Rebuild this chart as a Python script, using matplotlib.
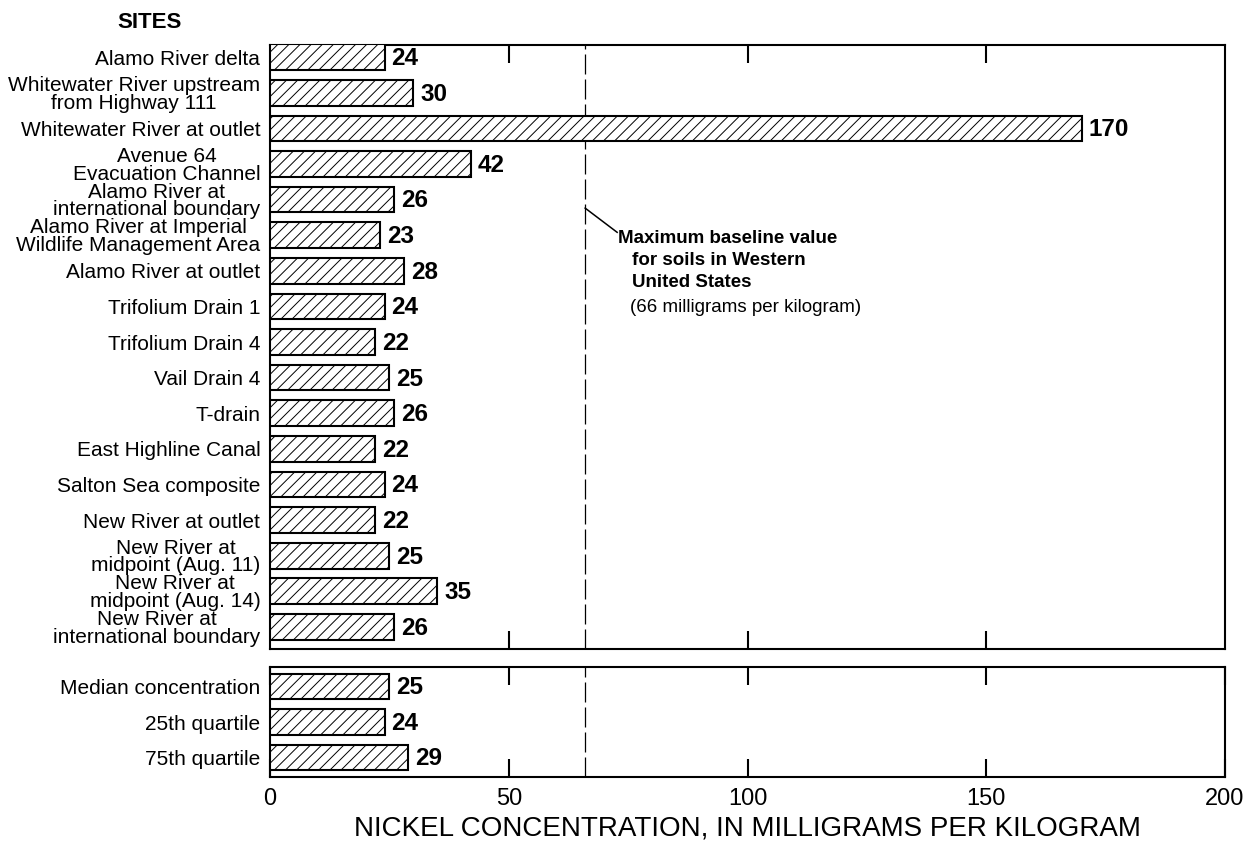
import matplotlib
matplotlib.use("Agg")
import matplotlib.pyplot as plt

plt.rcParams['font.family'] = ['Liberation Sans', 'DejaVu Sans']
plt.rcParams['hatch.linewidth'] = 0.7

sites = ['Alamo River delta',
         'Whitewater River upstream\nfrom Highway 111',
         'Whitewater River at outlet',
         'Avenue 64\nEvacuation Channel',
         'Alamo River at\ninternational boundary',
         'Alamo River at Imperial\nWildlife Management Area',
         'Alamo River at outlet',
         'Trifolium Drain 1',
         'Trifolium Drain 4',
         'Vail Drain 4',
         'T-drain',
         'East Highline Canal',
         'Salton Sea composite',
         'New River at outlet',
         'New River at\nmidpoint (Aug. 11)',
         'New River at\nmidpoint (Aug. 14)',
         'New River at\ninternational boundary']
nickel = [24, 30, 170, 42, 26, 23, 28, 24, 22, 25, 26, 22, 24, 22, 25, 35, 26]

stats = ['Median concentration', '25th quartile', '75th quartile']
stat_values = [25, 24, 29]

baseline = 66

fig = plt.figure(figsize=(12.44, 8.47), dpi=100)
W, H = 1244, 847
ax1 = fig.add_axes([270 / W, 1 - 649 / H, 955 / W, 604 / H])
ax2 = fig.add_axes([270 / W, 1 - 777 / H, 955 / W, 110 / H])


def draw(ax, names, vals):
    ypos = list(range(len(vals)))
    ax.barh(ypos, vals, height=0.72, color='white', edgecolor='black',
            hatch='///', linewidth=1.5, zorder=3)
    for y, v in zip(ypos, vals):
        ax.annotate(str(v), (v, y), xytext=(5, -1), textcoords='offset points',
                    ha='left', va='center', fontsize=17.5, fontweight='bold')
    ax.set_yticks(ypos)
    ax.set_yticklabels(names, fontsize=15, linespacing=0.92)
    for lbl in ax.get_yticklabels():
        lbl.set_multialignment('center')
    ax.tick_params(axis='y', length=0, pad=7)
    ax.axvline(baseline, color='black', lw=0.9, dashes=(16, 4), zorder=1)
    ax.set_xlim(0, 200)
    for s in ax.spines.values():
        s.set_linewidth(1.5)


draw(ax1, sites, nickel)
ax1.set_ylim(16.62, -0.34)
ax1.set_xticks([50, 100, 150])
ax1.tick_params(axis='x', direction='in', length=13, width=1.5,
                top=True, bottom=True, labelbottom=False)

draw(ax2, stats, stat_values)
ax2.set_ylim(2.55, -0.55)
ax2.set_xticks([0, 50, 100, 150, 200])
ax2.tick_params(axis='x', direction='in', length=13, width=1.5,
                top=True, bottom=True, labelsize=17, pad=8)
ax2.set_xlabel('NICKEL CONCENTRATION, IN MILLIGRAMS PER KILOGRAM',
               fontsize=20, labelpad=4)

# annotation for the baseline line
ax1.plot([66, 72.7], [4.24, 4.92], color='black', lw=1.1)
ax1.text(72.9, 5.08, 'Maximum baseline value', fontsize=13.5, fontweight='bold',
         ha='left', va='center')
ax1.text(75.8, 5.70, 'for soils in Western', fontsize=13.5, fontweight='bold',
         ha='left', va='center')
ax1.text(75.8, 6.32, 'United States', fontsize=13.5, fontweight='bold',
         ha='left', va='center')
ax1.text(75.4, 7.02, '(66 milligrams per kilogram)', fontsize=13.5,
         ha='left', va='center')

fig.text(150 / W, 1 - 22 / H, 'SITES', ha='center', va='center',
         fontsize=16, fontweight='bold')

fig.savefig('out.png', dpi=100)
